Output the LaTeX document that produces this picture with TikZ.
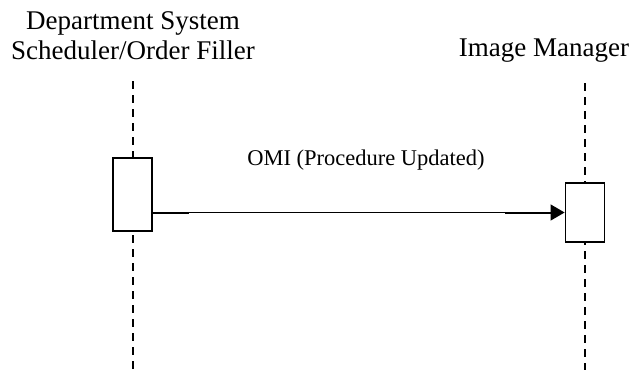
\documentclass[tikz,border=0pt]{standalone}
\usepackage{fontspec}
\setmainfont{Liberation Serif}
\usetikzlibrary{arrows.meta}
\begin{document}
\begin{tikzpicture}[x=1pt,y=-1pt,
  hdr/.style={font=\fontsize{27}{31}\selectfont, inner sep=0pt, anchor=base},
  lbl/.style={font=\fontsize{22.5}{26}\selectfont, inner sep=0pt, anchor=base},
  life/.style={line width=2pt, dash pattern=on 8pt off 6pt},
  actbox/.style={draw, line width=1.8pt, fill=white, minimum width=39pt, inner sep=0pt},
  msg/.style={line width=1.2pt, -{Triangle[length=14pt,width=16pt]}},
  heavy/.style={line width=2pt}
]
\useasboundingbox (0,0) rectangle (633,370);
\node[hdr] (h1) at (133,29) {Department System};
\node[hdr] (h2) at (133,59) {Scheduler/Order Filler};
\node[hdr] (h3) at (544,56) {Image Manager};
\coordinate (lt) at (133,81);
\coordinate (lb) at (133,372);
\coordinate (rt) at (585,83);
\coordinate (rb) at (585,372);
\draw[life] (lt) -- (lb);
\draw[life] (rt) -- (rb);
\node[actbox, minimum height=73pt] (lbox) at (132.5,194.5) {};
\node[actbox, minimum height=59pt] (rbox) at (585,212.5) {};
\coordinate (a0) at (lbox.east |- rbox.west);
\coordinate (a1) at ([xshift=36pt]a0);
\coordinate (a2) at ([xshift=-60pt]rbox.west);
\draw[msg] (a0) -- (rbox.west);
\draw[heavy] (a0) -- (a1);
\draw[heavy] (a2) -- ([xshift=-12pt]rbox.west);
\node[lbl] (m) at (366,165) {OMI (Procedure Updated)};
\end{tikzpicture}
\end{document}
